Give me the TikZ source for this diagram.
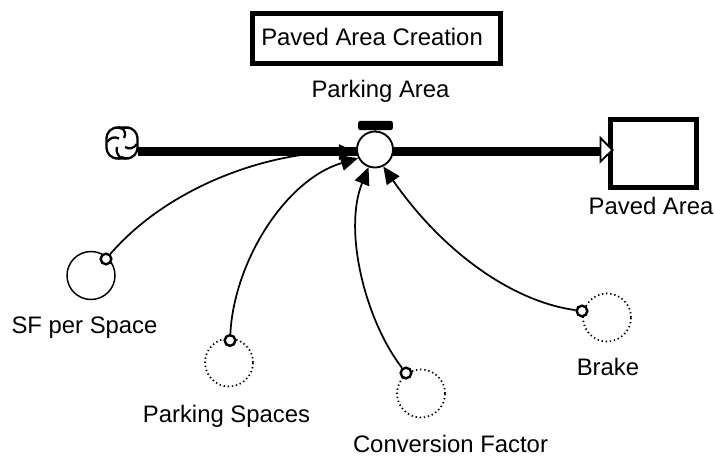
\documentclass[tikz,border=0pt]{standalone}
\usepackage{fontspec}
\setmainfont{Liberation Sans}
\usetikzlibrary{arrows.meta}
\begin{document}
\begin{tikzpicture}[x=0.75pt,y=-0.75pt,
  lbl/.style={inner sep=0pt,anchor=base,font=\fontsize{17.9pt}{20pt}\selectfont,text=black},
  aux/.style={circle,draw,line width=1.1pt,minimum size=36pt,inner sep=0pt},
  ghost/.style={circle,draw,line width=1.3pt,dash pattern=on 1pt off 2.1pt,minimum size=36pt,inner sep=0pt},
  tap/.style={circle,draw,line width=1.8pt,minimum size=8pt,inner sep=0pt,fill=white},
  link/.style={line width=1.3pt,-{Triangle[length=13pt,width=11.5pt]}},
  pipe/.style={line width=7pt}]
\useasboundingbox (0,0) rectangle (715,456);
% title
\node[draw,line width=3.8pt,minimum width=186pt,minimum height=37.5pt,inner sep=0pt] (title) at (376.5,38.5) {};
\node[lbl,anchor=base west] (titletext) at (261,46) {Paved Area Creation};
\node[lbl] (valvelabel) at (380.5,98) {Parking Area};
% stock and flow
\coordinate (src) at (138,151.5);
\node[draw,line width=3.7pt,minimum width=65pt,minimum height=51.5pt,inner sep=0pt,fill=white] (stock) at (653.5,153.5) {};
\draw[pipe] (src) -- (src -| stock.west);
\node[circle,draw,line width=1.4pt,fill=white,minimum size=27pt,inner sep=0pt] (valve) at (375,149.5) {};
\draw[line width=1.4pt,fill=white] (600.5,138) -- (612.5,150) -- (600.5,161.5) -- cycle;
% valve handle
\node[fill=black,rounded corners=1.5pt,minimum width=26pt,minimum height=6.8pt,inner sep=0pt] (handle) at (375.5,125.5) {};
\draw[line width=4pt] (handle.south) -- (valve.north);
% cloud
\begin{scope}[shift={(122,143)},line width=1.7pt]
 \draw[fill=white,rounded corners=3pt] (0,-14.5)--(-3,-15.5)--(-9,-15.5)--(-15.5,-9)--(-15.5,9)--(-9,15.5)--(-3,15.5)--(0,14.5)--(3,15.5)--(9,15.5)--(15.5,9)--(15.5,-9)--(9,-15.5)--(3,-15.5)--cycle;
 \draw (0,-15) .. controls (3,-12) and (4,-9) .. (2,-5);
 \draw (-15,-1) .. controls (-12,-5) and (-8,-7) .. (-3,-4.5);
 \draw (15,1) .. controls (12,5) and (8,7) .. (3,4);
 \draw (-2,14) .. controls (-5,11) and (-6,8) .. (-5,4);
\end{scope}
% auxiliaries
\node[aux] (sf) at (91,275.5) {};
\node[ghost] (ps) at (229,362.5) {};
\node[ghost] (cf) at (421,393.5) {};
\node[ghost] (br) at (607,317.5) {};
\node[tap] (sft) at (106,259) {};
\node[tap] (pst) at (230,340.5) {};
\node[tap] (cft) at (406,373) {};
\node[tap] (brt) at (582,311) {};
% connectors
\draw[link] (sft) .. controls (170,185) and (270,152) .. (valve.188);
\draw[link] (pst) .. controls (234,262) and (285,180) .. (valve.207);
\draw[link] (cft) .. controls (365,320) and (343,230) .. (valve.250);
\draw[link] (brt) .. controls (515,302) and (445,255) .. (valve.296);
% labels
\node[lbl] (stocklabel) at (651,215) {Paved Area};
\node[lbl] (sflabel) at (84.5,334) {SF per Space};
\node[lbl] (pslabel) at (226.5,422) {Parking Spaces};
\node[lbl] (cflabel) at (450.5,452) {Conversion Factor};
\node[lbl] (brlabel) at (608,376) {Brake};
\end{tikzpicture}
\end{document}
